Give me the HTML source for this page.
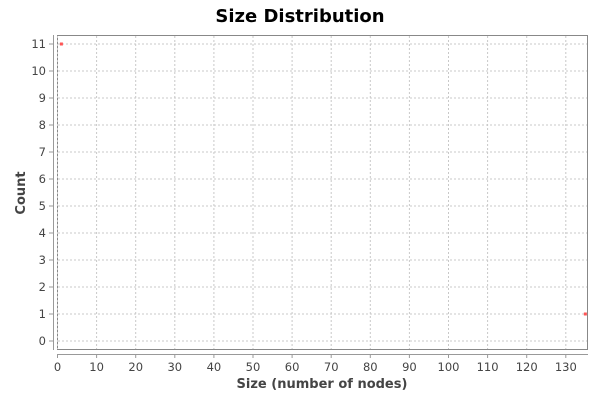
<!DOCTYPE html>
<html><head><meta charset="utf-8"><style>
body{margin:0;background:#fff;}
svg text{font-family:"DejaVu Sans","Liberation Sans",sans-serif;}
</style></head><body>
<svg id="chart" width="600" height="400" xmlns="http://www.w3.org/2000/svg">
<rect x="0" y="0" width="600" height="400" fill="#fff"/>
<text x="300" y="22" text-anchor="middle" font-size="18" font-weight="bold" fill="#000">Size Distribution</text>
<rect x="57.5" y="35.5" width="530" height="314" fill="#fff" stroke="#888"/>
<g id="grid"></g>
<g id="axes"></g>
<g id="points"></g>
<text x="322" y="388" text-anchor="middle" font-size="13" font-weight="bold" fill="#444">Size (number of nodes)</text>
<text transform="translate(25,193) rotate(-90)" text-anchor="middle" font-size="13" font-weight="bold" fill="#444">Count</text>
</svg>
<script>
const xTicks=[0,10,20,30,40,50,60,70,80,90,100,110,120,130];
const yTicks=[0,1,2,3,4,5,6,7,8,9,10,11];
const sizes=[1,135];
const counts=[11,1];
const NS="http://www.w3.org/2000/svg";
const X=v=>57.5+v*3.91;
const Y=v=>341-v*27;
function mk(t,a,p){const e=document.createElementNS(NS,t);for(const k in a)e.setAttribute(k,a[k]);p.appendChild(e);return e;}
const g=document.getElementById('grid'),ax=document.getElementById('axes'),pt=document.getElementById('points');
mk('line',{x1:53.5,x2:53.5,y1:35,y2:350,stroke:'#999'},ax);
mk('line',{x1:57,x2:588,y1:354.5,y2:354.5,stroke:'#999'},ax);
xTicks.forEach(v=>{const x=X(v);
const l=mk('line',{x1:x,x2:x,y1:36,y2:349,stroke:'#c8c8c8','stroke-dasharray':'2,2'},g);


mk('line',{x1:x,x2:x,y1:354,y2:358,stroke:'#999'},ax);
const t=mk('text',{x:x,y:371,'text-anchor':'middle','font-size':11.5,fill:'#444'},ax);t.textContent=v;

});
yTicks.forEach(v=>{const y=Y(v);
const l=mk('line',{x1:58,x2:587,y1:y,y2:y,stroke:'#c8c8c8','stroke-dasharray':'2,2'},g);


mk('line',{x1:49,x2:53,y1:y,y2:y,stroke:'#999'},ax);
const t=mk('text',{x:46,y:y+4,'text-anchor':'end','font-size':11.5,fill:'#444'},ax);t.textContent=v;

});
sizes.forEach((s,i)=>{const r=mk('rect',{x:X(s)-1.5,y:Y(counts[i])-1.5,width:3,height:3,fill:'#ff5555'},pt);

});
</script>
</body></html>
